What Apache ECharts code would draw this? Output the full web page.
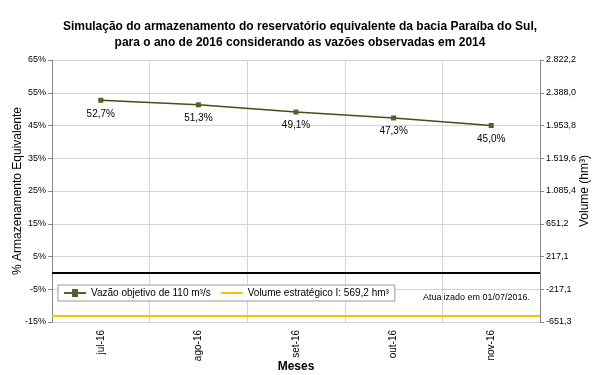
<!DOCTYPE html>
<html><head><meta charset="utf-8">
<script src="https://cdn.jsdelivr.net/npm/echarts@6/dist/echarts.min.js"></script>
<style>html,body{margin:0;padding:0;background:#fff}#c{width:600px;height:375px}</style>
</head><body><div id="c"></div>
<script>
var categories = ['jul-16','ago-16','set-16','out-16','nov-16'];
var storagePct = [52.7, 51.3, 49.1, 47.3, 45.0];
var strategicPct = -13.1;
var leftTicks = ['-15%','-5%','5%','15%','25%','35%','45%','55%','65%'];
var rightTicks = ['-651,3','-217,1','217,1','651,2','1.085,4','1.519,6','1.953,8','2.388,0','2.822,2'];
var F = 'Liberation Sans, Arial, sans-serif';
var chart = echarts.init(document.getElementById('c'));
function idx(v){ return Math.round((v + 15) / 10); }
chart.setOption({
  animation: false,
  textStyle: {fontFamily: F},
  title: {
    text: 'Simulação do armazenamento do reservatório equivalente da bacia Paraíba do Sul,\npara o ano de 2016 considerando as vazões observadas em 2014',
    left: 'center', top: 14,
    textStyle: {fontFamily: F, fontSize: 12, fontWeight: 'bold', color: '#000', lineHeight: 16}
  },
  grid: {left: 52, right: 60, top: 60, bottom: 53, containLabel: false, outerBoundsMode: 'none'},
  legend: {
    left: 58, top: 285, padding: [3, 6, 3, 6],
    backgroundColor: '#fff', borderColor: '#999', borderWidth: 1, borderRadius: 0,
    itemWidth: 22, itemHeight: 8, itemGap: 10,
    textStyle: {fontFamily: F, fontSize: 10, color: '#000'},
    data: [
      {name: 'Vazão objetivo de 110 m³/s', icon: 'path://M0,9 L8,9 L8,6 L14,6 L14,9 L22,9 L22,11 L14,11 L14,14 L8,14 L8,11 L0,11 Z'},
      {name: 'Volume estratégico I: 569,2 hm³', icon: 'path://M0,9 L22,9 L22,11 L0,11 Z'}
    ]
  },
  xAxis: {
    type: 'category', data: categories, boundaryGap: true,
    name: 'Meses', nameLocation: 'middle', nameGap: 39, nameMoveOverlap: false,
    nameTextStyle: {fontFamily: F, fontSize: 12, fontWeight: 'bold', color: '#000'},
    axisLine: {show: false},
    axisTick: {show: false},
    axisLabel: {rotate: 90, fontSize: 10, color: '#000', margin: 8},
    splitLine: {show: true, lineStyle: {color: '#d4d4d4', width: 1}}
  },
  yAxis: [{
    type: 'value', min: -15, max: 65, interval: 10,
    name: '% Armazenamento Equivalente', nameLocation: 'middle', nameGap: 28, nameMoveOverlap: false,
    nameTextStyle: {fontFamily: F, fontSize: 12, color: '#000'},
    axisLine: {show: true, lineStyle: {color: '#888'}},
    axisTick: {show: true, inside: false, length: 4, lineStyle: {color: '#888'}},
    axisLabel: {fontSize: 9, color: '#000', margin: 6, formatter: function(v){ return leftTicks[idx(v)]; }},
    splitLine: {show: true, lineStyle: {color: '#d4d4d4', width: 1}}
  }, {
    type: 'value', min: -15, max: 65, interval: 10, position: 'right',
    name: 'Volume (hm³)', nameLocation: 'middle', nameGap: 39, nameMoveOverlap: false,
    nameTextStyle: {fontFamily: F, fontSize: 12, color: '#000'},
    axisLine: {show: true, lineStyle: {color: '#888'}},
    axisTick: {show: true, length: 4, lineStyle: {color: '#888'}},
    axisLabel: {fontSize: 9, color: '#000', margin: 6, formatter: function(v){ return rightTicks[idx(v)]; }},
    splitLine: {show: false}
  }],
  series: [{
    name: 'Vazão objetivo de 110 m³/s', type: 'line', data: storagePct,
    symbol: 'rect', symbolSize: 5,
    lineStyle: {color: '#3f5216', width: 1.5},
    itemStyle: {color: '#4f6228'},
    label: {show: true, position: 'bottom', distance: 6, fontSize: 10, color: '#000',
      formatter: function(p){ return p.value.toFixed(1).replace('.', ',') + '%'; }},
    markLine: {
      silent: true, symbol: 'none', label: {show: false},
      lineStyle: {color: '#000', width: 2, type: 'solid'},
      data: [{yAxis: 0}]
    }
  }, {
    name: 'Volume estratégico I: 569,2 hm³', type: 'line', data: [],
    itemStyle: {color: '#ffc000'},
    lineStyle: {color: '#ffc000', width: 2},
    markLine: {
      silent: true, symbol: 'none', label: {show: false},
      lineStyle: {color: '#ffc000', width: 2, type: 'solid'},
      data: [{yAxis: strategicPct}]
    }
  }],
  graphic: [{
    type: 'text', left: 423, top: 293,
    style: {text: 'Atualizado em 01/07/2016.', font: '9px ' + F, fill: '#000'}
  }]
});
</script></body></html>
